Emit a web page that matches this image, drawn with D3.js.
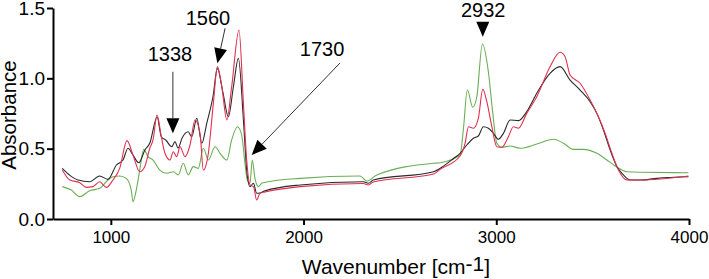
<!DOCTYPE html>
<html><head><meta charset="utf-8">
<script src="https://cdn.jsdelivr.net/npm/d3@7"></script>
<style>
body{margin:0;background:#fff;}
text{font-family:"Liberation Sans",Arial,sans-serif;fill:#000;}
</style></head>
<body><svg id="c" width="709" height="279"></svg>
<script>
// wavenumber (cm-1) and absorbance
const blackWn = [748,788,830,890,942,985,1029,1063,1089,1115,1145,1177,1202,1240,1262,1286,1316,1333,1349,1370,1401,1420,1446,1472,1498,1530,1553,1582,1610,1636,1662,1688,1705,1722,1740,1757,1774,1800,1982,2310,2336,2362,2674,2720,2778,2812,2847,2881,2907,2933,2959,2985,3011,3037,3072,3115,3158,3210,3279,3331,3383,3435,3487,3522,3556,3591,3626,3660,3695,3747,3833,3997];
const blackAbs = [0.36,0.31,0.277,0.265,0.306,0.282,0.384,0.419,0.503,0.455,0.40,0.49,0.538,0.725,0.585,0.56,0.514,0.55,0.505,0.576,0.62,0.585,0.716,0.538,0.682,0.869,1.071,0.896,0.727,0.94,1.142,0.704,0.348,0.23,0.254,0.183,0.185,0.2,0.242,0.265,0.254,0.277,0.336,0.37,0.43,0.467,0.526,0.574,0.59,0.656,0.645,0.609,0.567,0.609,0.704,0.699,0.763,0.894,1.036,1.083,0.988,0.917,0.834,0.751,0.633,0.49,0.372,0.313,0.277,0.277,0.289,0.30];

const redWn = [748,787,839,873,908,942,977,1011,1046,1084,1115,1150,1176,1202,1219,1240,1262,1281,1307,1324,1342,1359,1385,1411,1437,1463,1480,1506,1532,1553,1576,1602,1627,1665,1688,1705,1722,1740,1757,1774,1800,1982,2310,2336,2362,2674,2709,2812,2838,2856,2881,2907,2930,2951,2977,3003,3029,3063,3089,3115,3158,3210,3279,3331,3357,3383,3435,3487,3530,3565,3600,3634,3678,3747,3997];
const redAbs = [0.348,0.277,0.258,0.225,0.23,0.265,0.225,0.277,0.36,0.557,0.455,0.336,0.372,0.503,0.562,0.739,0.585,0.467,0.419,0.478,0.443,0.514,0.443,0.526,0.704,0.609,0.348,0.467,0.822,1.083,0.94,0.704,0.94,1.344,0.822,0.419,0.242,0.23,0.135,0.183,0.192,0.23,0.252,0.242,0.263,0.32,0.353,0.448,0.538,0.656,0.645,0.716,0.922,0.834,0.656,0.514,0.51,0.585,0.656,0.645,0.751,0.869,1.083,1.185,1.154,1.024,0.965,0.846,0.727,0.609,0.467,0.348,0.277,0.277,0.306];

const greenWn = [748,795,839,890,942,985,1011,1046,1080,1106,1115,1132,1150,1171,1193,1219,1254,1290,1324,1350,1376,1402,1428,1454,1480,1506,1541,1567,1602,1627,1657,1679,1696,1708,1722,1734,1748,1766,1785,1982,2293,2328,2380,2674,2709,2812,2829,2850,2878,2899,2928,2959,2982,3003,3029,3072,3124,3210,3297,3349,3400,3452,3522,3574,3617,3678,3747,3997];
const greenAbs = [0.23,0.206,0.159,0.201,0.218,0.277,0.30,0.306,0.289,0.206,0.123,0.206,0.348,0.495,0.443,0.419,0.348,0.325,0.336,0.313,0.396,0.313,0.372,0.36,0.503,0.419,0.514,0.467,0.419,0.562,0.656,0.597,0.396,0.277,0.254,0.419,0.289,0.23,0.256,0.289,0.306,0.27,0.313,0.396,0.40,0.455,0.633,0.917,0.794,0.869,1.244,1.047,0.751,0.538,0.51,0.519,0.503,0.533,0.567,0.538,0.495,0.495,0.467,0.419,0.377,0.336,0.332,0.329];

const xTicks = [1000,2000,3000,4000];
const yTicks = [0,0.5,1.0,1.5];
const seriesColors = ["#6aaf55","#2a2a2a","#e0304f"];

// peak annotations: label, tail point and tip point (wavenumber, absorbance), label anchor
const annLabels = ["1338","1560","1730","2932"];
const annTail = [[1322,1.047],[1593,1.356],[2189,1.109],[2930,1.40]];
const annTip  = [[1322,0.609],[1553,1.107],[1731,0.455],[2930,1.296]];
const annText = [[1307,1.123],[1504,1.379],[2096,1.159],[2932,1.435]];

const svg = d3.select("#c");
const x = d3.scaleLinear().domain([700,4000]).range([53,689]);
const y = d3.scaleLinear().domain([0,1.5]).range([219,8]);

const line = d3.line().x(d=>x(d[0])).y(d=>y(d[1])).curve(d3.curveMonotoneX);
const series = [
  d3.zip(greenWn, greenAbs),
  d3.zip(blackWn, blackAbs),
  d3.zip(redWn, redAbs)
];
svg.append("g").selectAll("path").data(series).join("path")
  .attr("d", line).attr("fill","none")
  .attr("stroke",(d,i)=>seriesColors[i]).attr("stroke-width",1.1);

// axes
const xAxis = svg.append("g").attr("transform",`translate(0,${y(0)})`)
  .call(d3.axisBottom(x).tickValues(xTicks).tickFormat(d3.format("d")).tickSize(6).tickSizeOuter(0).tickPadding(6));
const yAxis = svg.append("g").attr("transform",`translate(${x(700)},0)`)
  .call(d3.axisLeft(y).tickValues(yTicks).tickFormat(d3.format(".1f")).tickSize(6).tickSizeOuter(0).tickPadding(2));
[xAxis,yAxis].forEach(g=>{
  g.select(".domain").attr("stroke","#000").attr("stroke-width",2);
  g.selectAll(".tick line").attr("stroke","#000").attr("stroke-width",2);
  g.selectAll("text").attr("font-family",'"Liberation Sans",Arial,sans-serif').attr("fill","#000");
});
xAxis.selectAll("text").attr("font-size",17);
yAxis.selectAll("text").attr("font-size",19);

// titles
const xt = svg.append("text").attr("x",396).attr("y",274).attr("text-anchor","middle").attr("font-size",21);
xt.append("tspan").text("Wavenumber [cm");
xt.append("tspan").attr("dy",-3).text("-1");
xt.append("tspan").attr("dy",3).text("]");
svg.append("text").attr("transform","translate(16,115) rotate(-90)").attr("text-anchor","middle")
  .attr("font-size",20.5).text("Absorbance");

// annotations
const ag = svg.append("g");
annLabels.forEach((lab,i)=>{
  const [tx,ty] = [x(annTail[i][0]), y(annTail[i][1])];
  const [px,py] = [x(annTip[i][0]), y(annTip[i][1])];
  const dx = px-tx, dy = py-ty, L = Math.hypot(dx,dy), ux = dx/L, uy = dy/L;
  const hl = 15, hw = 6.5;
  const bx = px-ux*hl, by = py-uy*hl;
  if (L > hl) ag.append("line").attr("x1",tx).attr("y1",ty).attr("x2",bx).attr("y2",by)
      .attr("stroke","#333").attr("stroke-width",1);
  ag.append("path").attr("d",`M${px},${py}L${bx-uy*hw},${by+ux*hw}L${bx+uy*hw},${by-ux*hw}Z`).attr("fill","#000");
  ag.append("text").attr("x",x(annText[i][0])).attr("y",y(annText[i][1])).attr("text-anchor","middle")
    .attr("font-size",20).text(lab);
});
</script></body></html>
